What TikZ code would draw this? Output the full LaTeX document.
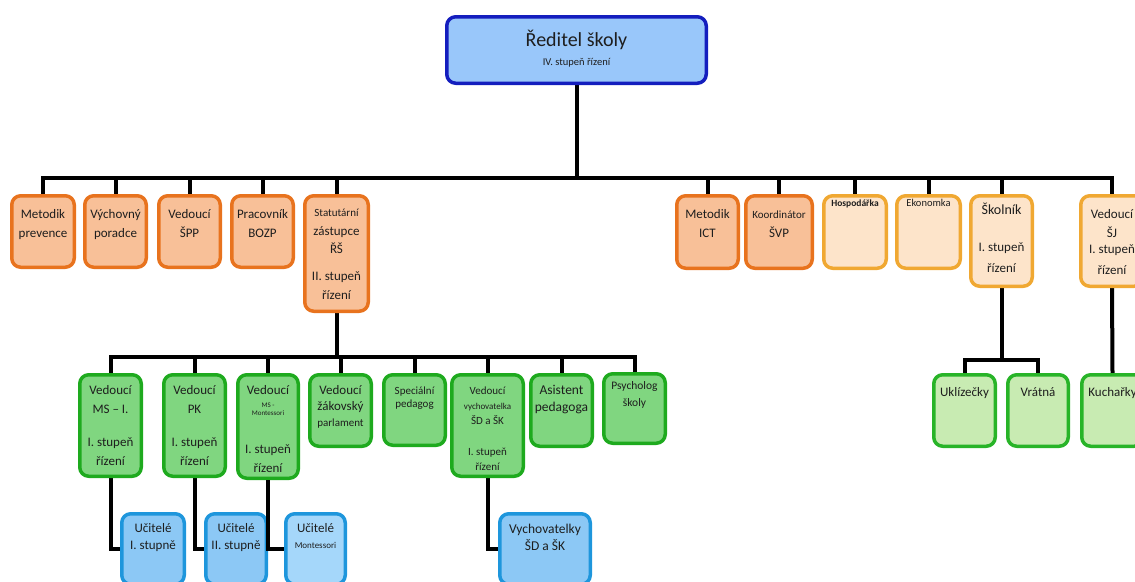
\documentclass[tikz,border=0pt]{standalone}
\usepackage{fontspec}
\setmainfont{Carlito}
\pgfdeclarelayer{background}
\pgfsetlayers{background,main}
\definecolor{topfill}{RGB}{153,199,250}
\definecolor{topline}{RGB}{20,30,190}
\definecolor{orfill}{RGB}{248,192,152}
\definecolor{orline}{RGB}{232,115,30}
\definecolor{lofill}{RGB}{253,228,202}
\definecolor{loline}{RGB}{240,168,50}
\definecolor{grfill}{RGB}{128,214,128}
\definecolor{grline}{RGB}{30,170,30}
\definecolor{lgfill}{RGB}{200,235,178}
\definecolor{lgline}{RGB}{40,180,40}
\definecolor{blfill}{RGB}{140,200,245}
\definecolor{blline}{RGB}{30,150,220}
\definecolor{bltwofill}{RGB}{165,215,250}
\definecolor{txt}{RGB}{30,30,30}
\tikzset{
  boxbase/.style={rounded corners=9pt, line width=3.5pt, inner sep=0pt, text=txt,
    font=\fontsize{13}{19}\selectfont},
  topbox/.style={boxbase, fill=topfill, draw=topline},
  orbox/.style={boxbase, fill=orfill, draw=orline},
  lobox/.style={boxbase, fill=lofill, draw=loline},
  grbox/.style={boxbase, fill=grfill, draw=grline},
  lgbox/.style={boxbase, fill=lgfill, draw=lgline},
  blbox/.style={boxbase, fill=blfill, draw=blline},
  bltwobox/.style={boxbase, fill=bltwofill, draw=blline},
  wire/.style={line width=4pt, black},
}
% \bx[toppad]{name}{style}{x1}{y1}{x2}{y2}{text}
\newcommand\bx[8][4.25]{%
  \node[#3] (#2) at ({(#4+#6)/2},{(#5+#7)/2})
    {\parbox[c][\dimexpr #7pt-#5pt-3.5pt\relax][t]{\dimexpr #6pt-#4pt-3.5pt\relax}%
      {\vspace*{#1pt}\centering\rule{0pt}{18pt}#8}};}
\begin{document}
\begin{tikzpicture}[x=1pt,y=-1pt]
\useasboundingbox (0,0) rectangle (1135,581);
\clip (0,0) rectangle (1135,581);

% top
\bx[11.25]{ridi}{topbox}{445}{15}{708}{85}{\fontsize{20}{24}\selectfont Ředitel školy\\[-5pt]{\fontsize{10.5}{12}\selectfont IV. stupeň řízení}}

% orange row left
\bx{mp}{orbox}{10}{194}{76}{269}{Metodik\\prevence}
\bx{vp}{orbox}{83}{194}{148}{269}{Výchovný\\poradce}
\bx{spp}{orbox}{157}{194}{222}{269}{Vedoucí\\ŠPP}
\bx{bozp}{orbox}{230}{194}{295}{269}{Pracovník\\BOZP}
\bx[2.5]{stat}{orbox}{303}{194}{370}{313}{{\fontsize{11}{13}\selectfont Statutární}\\zástupce\\[-1pt]ŘŠ\\[8pt]II. stupeň\\řízení}

% orange row right
\bx{ict}{orbox}{675}{194}{740}{270}{Metodik\\ICT}
\bx{svp}{orbox}{744}{194}{814}{270}{{\fontsize{11}{13}\selectfont Koordinátor}\\ŠVP}
\bx[-7.75]{hosp}{lobox}{822}{194}{888}{270}{{\fontsize{9.5}{11}\selectfont\bfseries Hospodářka}}
\bx[-7.75]{ekon}{lobox}{895}{194}{962}{270}{{\fontsize{10.5}{12}\selectfont Ekonomka}}
\bx[1]{skol}{lobox}{969}{194}{1034}{288}{{\fontsize{14}{19}\selectfont Školník}\\[18pt]I. stupeň\\[2pt]řízení}
\bx{sj}{lobox}{1079}{194}{1145}{288}{Vedoucí\\ŠJ\\[-3pt]I. stupeň\\[2pt]řízení}

% green row
\bx[1.25]{msi}{grbox}{78}{373}{143}{478}{Vedoucí\\MS – I.\\[14pt]I. stupeň\\řízení}
\bx[1.25]{pk}{grbox}{162}{373}{227}{478}{Vedoucí\\PK\\[14pt]I. stupeň\\řízení}
\bx[1.25]{mont}{grbox}{236}{373}{300}{480}{Vedoucí\\[-6pt]{\fontsize{7}{8}\selectfont MS -}\\[-11pt]{\fontsize{7}{8}\selectfont Montessori}\\[19pt]I. stupeň\\řízení}
\bx[1.25]{parl}{grbox}{308}{373}{373}{448}{Vedoucí\\[-3pt]žákovský\\[-3pt]{\fontsize{11}{13}\selectfont parlament}}
\bx[1.25]{spec}{grbox}{382}{373}{447}{447}{\fontsize{11}{13}\selectfont Speciální\\pedagog}
\bx[1.25]{vych}{grbox}{450}{373}{525}{478}{\fontsize{11}{15}\selectfont Vedoucí\\{\fontsize{9}{15}\selectfont vychovatelka}\\ŠD a ŠK\\[16pt]I. stupeň\\řízení}
\bx[2]{asist}{grbox}{529}{373}{594}{448}{\fontsize{13.5}{17}\selectfont Asistent\\pedagoga}
\bx[-2]{psych}{grbox}{602}{372}{667}{445}{\fontsize{11.5}{17}\selectfont Psycholog\\školy}

% light green
\bx[3.25]{ukl}{lgbox}{932}{373}{997}{448}{Uklízečky}
\bx[3.25]{vrat}{lgbox}{1006}{373}{1070}{448}{Vrátná}
\bx[3.25]{kuch}{lgbox}{1080}{373}{1145}{448}{Kuchařky}

% blue row
\bx[0.25]{uc1}{blbox}{120}{512}{186}{586}{Učitelé\\[-2pt]I. stupně}
\bx[0.25]{uc2}{blbox}{204}{512}{268}{586}{Učitelé\\[-2pt]II. stupně}
\bx[0.25]{ucm}{bltwobox}{284}{512}{347}{586}{Učitelé\\[-3pt]{\fontsize{9}{11}\selectfont Montessori}}
\bx[2]{vychov}{blbox}{498}{512}{592}{586}{\fontsize{13.5}{17}\selectfont Vychovatelky\\ŠD a ŠK}

\begin{pgfonlayer}{background}
\coordinate (bus) at (575,178);
\draw[wire] (ridi.south) -- (ridi.south |- bus);
\draw[wire] (mp.north) -- (mp.north |- bus) -- (sj.north |- bus) -- (sj.north);
\foreach \n in {vp,spp,bozp,stat,ict,svp,hosp,ekon,skol}
  \draw[wire] (\n.north) -- (\n.north |- bus);
\coordinate (gbus) at (340,357);
\draw[wire] (stat.south) -- (stat.south |- gbus);
\draw[wire] (msi.north) -- (msi.north |- gbus) -- (psych.north |- gbus) -- (psych.north);
\foreach \n in {pk,mont,parl,spec,vych,asist}
  \draw[wire] (\n.north) -- (\n.north |- gbus);
\coordinate (sbus) at (1000,360);
\draw[wire] (skol.south) -- (skol.south |- sbus);
\draw[wire] (ukl.north) -- (ukl.north |- sbus) -- (vrat.north |- sbus) -- (vrat.north);
\draw[wire] (sj.south) -- (kuch.north);
\draw[wire] (msi.south) |- (uc1.west);
\draw[wire] (pk.south) |- (uc2.west);
\draw[wire] (vych.south) |- (vychov.west);
\end{pgfonlayer}
\draw[wire] (mont.south) |- (ucm.west);
\end{tikzpicture}
\end{document}
